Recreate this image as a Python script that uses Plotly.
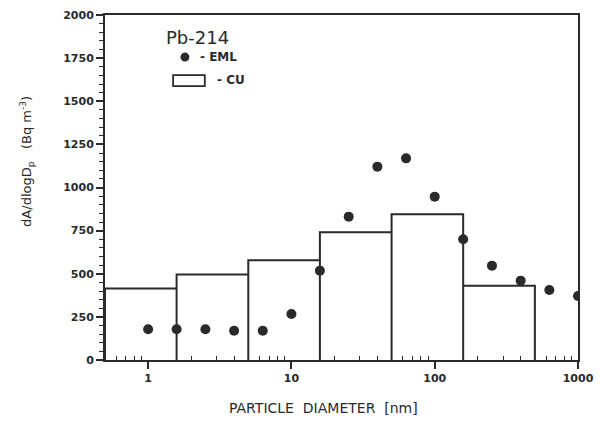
import plotly.graph_objects as go

# EML measurements (points)
eml_diameter = [1.0, 1.58, 2.51, 3.98, 6.31, 10.0, 15.8, 25.1, 39.8, 63.1, 100.0, 158.0, 251.0, 398.0, 631.0, 1000.0]
eml_value = [178, 178, 178, 170, 170, 267, 518, 831, 1121, 1169, 947, 700, 547, 460, 406, 371]

# CU histogram (bins)
cu_edges = [0.5, 1.58, 5.0, 15.8, 50.0, 158.0, 500.0]
cu_height = [415, 495, 578, 740, 845, 430]

x_tickvals = [1, 10, 100, 1000]
x_ticktext = ["1", "10", "100", "1000"]
y_tickvals = [0, 250, 500, 750, 1000, 1250, 1500, 1750, 2000]

INK = "#2a2a2a"

# build histogram outline path from edges and heights
hx, hy = [], []
for i, h in enumerate(cu_height):
    hx += [cu_edges[i], cu_edges[i], cu_edges[i + 1], cu_edges[i + 1]]
    hy += [0, h, h, 0]

fig = go.Figure()
fig.add_trace(go.Scatter(x=hx, y=hy, mode="lines", line=dict(color=INK, width=2),
                         hoverinfo="skip", showlegend=False))
fig.add_trace(go.Scatter(x=eml_diameter, y=eml_value, mode="markers",
                         marker=dict(color=INK, size=10), showlegend=False))

minor_x = [m * 10 ** k for k in range(-1, 3) for m in range(2, 10)]
tickfont = dict(family="DejaVu Sans", size=11, color=INK, weight="bold")

fig.update_xaxes(type="log", range=[-0.30103, 3.0], tickvals=x_tickvals, ticktext=x_ticktext,
                 showline=True, linecolor=INK, linewidth=2, mirror=True, automargin=False,
                 ticks="outside", ticklen=7, tickwidth=1.5, tickcolor=INK,
                 minor=dict(tickvals=minor_x, ticks="inside", ticklen=4, tickcolor=INK, tickwidth=1.2),
                 showgrid=False, zeroline=False, tickfont=tickfont)
fig.update_yaxes(range=[0, 2000], tickvals=y_tickvals,
                 showline=True, linecolor=INK, linewidth=2, mirror=True, automargin=False,
                 ticks="outside", ticklen=7, tickwidth=1.5, tickcolor=INK,
                 minor=dict(dtick=50, ticks="outside", ticklen=4, tickcolor=INK, tickwidth=1.2),
                 showgrid=False, zeroline=False, tickfont=tickfont)

font_main = dict(family="DejaVu Sans", color=INK)
annotations = [
    dict(text="dA/dlogD<sub>p</sub>   (Bq m<sup>-3</sup>)", textangle=-90, xref="paper", yref="paper",
         x=-0.165, y=0.577, xanchor="center", yanchor="middle", showarrow=False,
         font=dict(size=13, **font_main)),
    dict(text="PARTICLE  DIAMETER  [nm]", xref="paper", yref="paper", x=0.463, y=-0.139,
         xanchor="center", yanchor="middle", showarrow=False, font=dict(size=14, **font_main)),
    dict(text="Pb-214", xref="paper", yref="paper", x=0.195, y=0.935, xanchor="center", yanchor="middle",
         showarrow=False, font=dict(size=18, **font_main)),
    dict(text="- EML", xref="paper", yref="paper", x=0.197, y=0.878, xanchor="left", yanchor="middle",
         showarrow=False, font=dict(size=12, weight="bold", **font_main)),
    dict(text="- CU", xref="paper", yref="paper", x=0.233, y=0.812, xanchor="left", yanchor="middle",
         showarrow=False, font=dict(size=12, weight="bold", **font_main)),
]
shapes = [
    dict(type="circle", xref="paper", yref="paper", x0=0.1595, x1=0.1785, y0=0.865, y1=0.891,
         fillcolor=INK, line=dict(width=0)),
    dict(type="rect", xref="paper", yref="paper", x0=0.144, x1=0.211, y0=0.794, y1=0.826,
         line=dict(color=INK, width=1.8)),
]

fig.update_layout(width=600, height=427, margin=dict(l=105, r=22, t=15, b=67),
                  paper_bgcolor="white", plot_bgcolor="white",
                  annotations=annotations, shapes=shapes, showlegend=False)
fig.write_html("out.html", config={"displayModeBar": False},
               post_script="document.body.style.margin='0';document.body.style.overflow='hidden';")
